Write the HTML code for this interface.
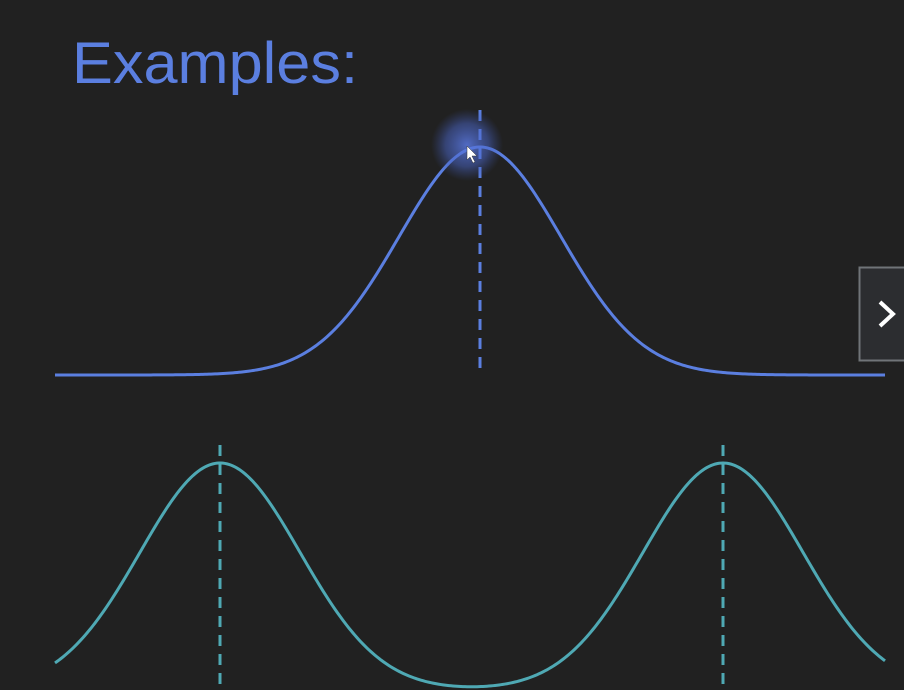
<!DOCTYPE html>
<html><head><meta charset="utf-8"><style>
html,body{margin:0;padding:0;background:#212121;width:904px;height:690px;overflow:hidden}
svg{display:block}
</style></head><body>
<svg id="c" width="904" height="690">
<defs><radialGradient id="glow"><stop offset="0" stop-color="#5a78e0" stop-opacity="0.85"/><stop offset="0.6" stop-color="#4a66c8" stop-opacity="0.5"/><stop offset="1" stop-color="#3a50a0" stop-opacity="0"/></radialGradient></defs>
<text x="72" y="83" font-family="'Liberation Sans',sans-serif" font-size="58" textLength="286" lengthAdjust="spacingAndGlyphs" fill="#5b7fe0">Examples:</text>
<g id="g"></g>
<circle cx="467" cy="145" r="36" fill="url(#glow)"/>
<path d="M467 146 L467 160 L470 157 L473 163 L475 162 L472 156 L477 156 Z" fill="#fff" stroke="#333" stroke-width="0.5"/>
<g>
<rect x="859.5" y="267.5" width="50" height="93" fill="#2c2d30" stroke="#707478" stroke-width="2"/>
<path d="M880 302 L893 314 L880 326" fill="none" stroke="#fff" stroke-width="4"/>
</g>
</svg>
<script>
const blueMeans=[480];
const blueSigma=[81];
const blueAmp=[228];
const tealMeans=[220,723];
const tealSigma=[80,80];
const tealAmp=[227,227];
const xMin=55,xMax=886;
const blueBase=375,tealBase=690;
const g=document.getElementById('g');
const NS='http://www.w3.org/2000/svg';
function curve(means,sig,amp,base,color,name,ext){
  let d='';
  for(let x=xMin;x<=xMax;x+=2){
    let s=0;for(let i=0;i<means.length;i++)s+=amp[i]*Math.exp(-((x-means[i])**2)/(2*sig[i]*sig[i]));
    d+=(x===xMin?'M':'L')+x+' '+(base-s).toFixed(2);
  }
  const p=document.createElementNS(NS,'path');
  p.setAttribute('d',d);p.setAttribute('fill','none');p.setAttribute('stroke',color);p.setAttribute('stroke-width','3');
  
  
  g.appendChild(p);
  means.forEach((m,i)=>{
    const l=document.createElementNS(NS,'line');
    l.setAttribute('x1',m);l.setAttribute('x2',m);
    l.setAttribute('y1',base-amp[i]-ext);l.setAttribute('y2',base);
    l.setAttribute('stroke',color);l.setAttribute('stroke-width','3');l.setAttribute('stroke-dasharray','11 8');
    
    
    g.appendChild(l);
  });
}
curve(blueMeans,blueSigma,blueAmp,blueBase,'#5b7fe0','blue-gaussian',37);
curve(tealMeans,tealSigma,tealAmp,tealBase,'#4fa9b4','teal-bimodal',18);
</script>
</body></html>
